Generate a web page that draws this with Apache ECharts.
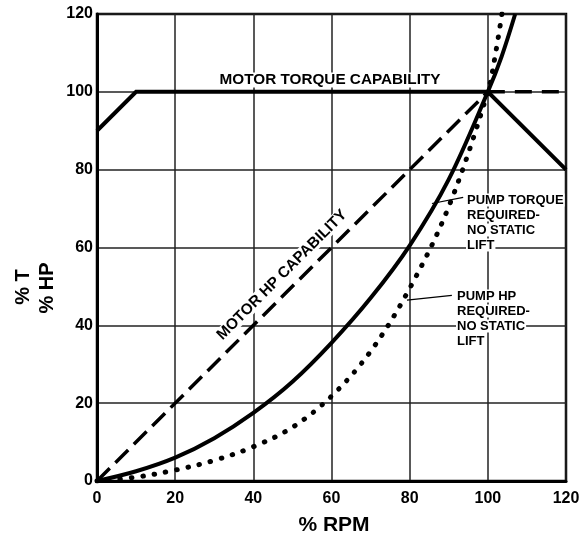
<!DOCTYPE html>
<html>
<head>
<meta charset="utf-8">
<script src="https://cdn.jsdelivr.net/npm/echarts@6/dist/echarts.min.js"></script>
<style>
html,body{margin:0;padding:0;background:#fff;}
#c{width:588px;height:537px;}
</style>
</head>
<body>
<div id="c"></div>
<script>
// ---- data ----
const xTicks = [0, 20, 40, 60, 80, 100, 120];
const yTicks = [0, 20, 40, 60, 80, 100, 120];

const motorTorqueX = [0, 10, 100, 120];
const motorTorqueY = [90, 100, 100, 80];

const motorTorqueExtX = [100, 120];
const motorTorqueExtY = [100, 100];

const motorHpX = [0, 100];
const motorHpY = [0, 100];

const pumpTorqueX = [0, 10, 20, 30, 40, 50, 60, 70, 80, 90, 100, 103.5, 107];
const pumpTorqueY = [0, 2.5, 6, 11, 17.5, 25.5, 35.5, 47, 60.5, 77.5, 100, 109, 120];

const pumpHpX = [0, 10, 20, 30, 40, 50, 60, 70, 80, 90, 100, 102, 103.6];
const pumpHpY = [0, 1, 2.8, 5.3, 8.8, 13.8, 21.8, 33.3, 49.5, 70.5, 100, 110, 120];

const leaderTorqueX = [85.7, 93.7];
const leaderTorqueY = [71.3, 72.9];
const leaderHpX = [79.3, 90.8];
const leaderHpY = [46.5, 47.7];

const pumpTorqueLabel = ['PUMP TORQUE', 'REQUIRED-', 'NO STATIC', 'LIFT'];
const pumpHpLabel = ['PUMP HP', 'REQUIRED-', 'NO STATIC', 'LIFT'];

function pairs(xs, ys) { return xs.map((x, i) => [x, ys[i]]); }

const FONT = '"Liberation Sans", Arial, Helvetica, sans-serif';
const chart = echarts.init(document.getElementById('c'), null, {renderer: 'canvas'});

function txt(text, x, y, size, opts) {
  return Object.assign({
    type: 'text', x: x, y: y, z: 50,
    style: Object.assign({
      text: text, font: 'bold ' + size + 'px ' + FONT, fill: '#000',
      align: 'center', verticalAlign: 'middle',
      backgroundColor: '#fff', padding: [0, 1]
    }, (opts && opts.style) || {})
  }, (opts && opts.el) || {});
}

const graphics = [];
graphics.push(txt('MOTOR TORQUE CAPABILITY', 330, 80, 15.3));
graphics.push(txt('MOTOR HP CAPABILITY', 282, 275, 15.3, {el: {rotation: Math.PI / 4}}));
pumpTorqueLabel.forEach((t, i) => graphics.push(txt(t, 466, 200 + i * 15, 13, {style: {align: 'left'}})));
pumpHpLabel.forEach((t, i) => graphics.push(txt(t, 456, 296 + i * 15, 13, {style: {align: 'left'}})));
graphics.push(txt('% RPM', 334, 525, 21, {style: {backgroundColor: null}}));
graphics.push(txt('% T', 23, 287, 20, {el: {rotation: Math.PI / 2}, style: {backgroundColor: null}}));
graphics.push(txt('% HP', 47, 288, 20, {el: {rotation: Math.PI / 2}, style: {backgroundColor: null}}));

const option = {
  animation: false,
  backgroundColor: '#fff',
  grid: {left: 97, right: 22, top: 14, bottom: 56, show: true, borderColor: '#000', borderWidth: 2.5, backgroundColor: 'transparent'},
  xAxis: {
    type: 'value', min: xTicks[0], max: xTicks[xTicks.length - 1], interval: 20,
    axisLine: {show: true, lineStyle: {color: '#000', width: 3}},
    axisTick: {show: false},
    axisLabel: {color: '#000', fontSize: 16, fontWeight: 'bold', fontFamily: FONT, margin: 10},
    splitLine: {show: true, lineStyle: {color: '#222', width: 1.5}}
  },
  yAxis: {
    type: 'value', min: yTicks[0], max: yTicks[yTicks.length - 1], interval: 20,
    axisLine: {show: true, lineStyle: {color: '#000', width: 3}},
    axisTick: {show: false},
    axisLabel: {color: '#000', fontSize: 16, fontWeight: 'bold', fontFamily: FONT, margin: 4},
    splitLine: {show: true, lineStyle: {color: '#222', width: 1.5}}
  },
  series: [
    {type: 'line', data: pairs(motorTorqueX, motorTorqueY), symbol: 'none', z: 5,
     lineStyle: {color: '#000', width: 4, join: 'miter'}},
    {type: 'line', data: pairs(motorTorqueExtX, motorTorqueExtY), symbol: 'none', z: 5,
     lineStyle: {color: '#000', width: 3.5, type: [17, 10]}},
    {type: 'line', data: pairs(motorHpX, motorHpY), symbol: 'none', z: 5,
     lineStyle: {color: '#000', width: 3.5, type: [18, 8]}},
    {type: 'line', data: pairs(pumpTorqueX, pumpTorqueY), symbol: 'none', smooth: 0.35, z: 6,
     lineStyle: {color: '#000', width: 4}},
    {type: 'line', data: pairs(pumpHpX, pumpHpY), symbol: 'none', smooth: 0.35, z: 6,
     lineStyle: {color: '#000', width: 5, type: [0.5, 11], cap: 'round'}},
    {type: 'line', data: pairs(leaderTorqueX, leaderTorqueY), symbol: 'none', z: 4,
     lineStyle: {color: '#000', width: 1.2}},
    {type: 'line', data: pairs(leaderHpX, leaderHpY), symbol: 'none', z: 4,
     lineStyle: {color: '#000', width: 1.2}}
  ],
  graphic: graphics
};
chart.setOption(option);
</script>
</body>
</html>
